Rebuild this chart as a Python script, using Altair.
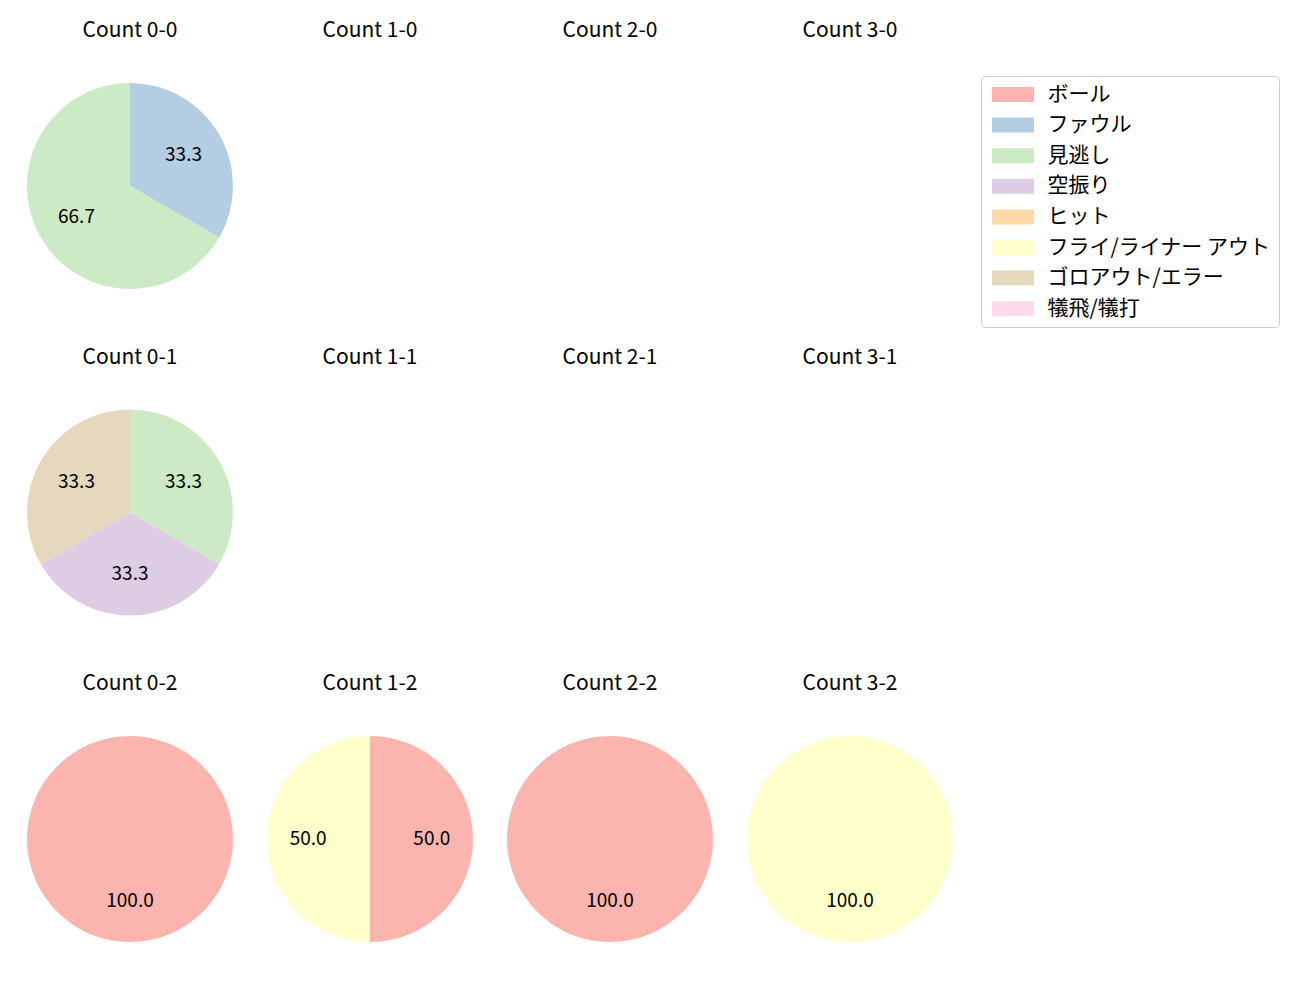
import altair as alt
import pandas as pd

categories = ["ボール", "ファウル", "見逃し", "空振り", "ヒット",
              "フライ/ライナー アウト", "ゴロアウト/エラー", "犠飛/犠打"]
colors = ["#fbb4ae", "#b3cde3", "#ccebc5", "#decbe4", "#fed9a6",
          "#ffffcc", "#e5d8bd", "#fddaec"]

panel_rows = [["Count 0-0", "Count 1-0", "Count 2-0", "Count 3-0"],
              ["Count 0-1", "Count 1-1", "Count 2-1", "Count 3-1"],
              ["Count 0-2", "Count 1-2", "Count 2-2", "Count 3-2"]]

# counts per panel: (panel, category, count)
panel_names = ["Count 0-0", "Count 0-0",
               "Count 0-1", "Count 0-1", "Count 0-1",
               "Count 0-2",
               "Count 1-2", "Count 1-2",
               "Count 2-2",
               "Count 3-2"]
panel_cats = ["ファウル", "見逃し",
              "見逃し", "空振り", "ゴロアウト/エラー",
              "ボール",
              "ボール", "フライ/ライナー アウト",
              "ボール",
              "フライ/ライナー アウト"]
panel_counts = [1, 2,
                1, 1, 1,
                1,
                1, 1,
                1,
                1]

df = pd.DataFrame({
    "panel": panel_names,
    "cat": panel_cats,
    "count": panel_counts,
})
df["idx"] = df["cat"].map({c: i for i, c in enumerate(categories)})

FONT = "Noto Sans CJK JP"
R = 103
color_scale = alt.Scale(domain=categories, range=colors)


def panel(name):
    base = alt.Chart(df).transform_filter(
        alt.datum.panel == name
    ).transform_joinaggregate(
        total="sum(count)"
    ).transform_calculate(
        pct="datum['count'] / datum.total * 100"
    ).encode(
        theta=alt.Theta("count:Q", stack=True),
        order=alt.Order("idx:Q", sort="ascending"),
    )
    arc = base.mark_arc(radius=R).encode(
        color=alt.Color("cat:N", scale=color_scale, title=None,
                        legend=alt.Legend(
                            orient="none", legendX=954, legendY=-7,
                            symbolType="M-2.8,-1H2.8V1H-2.8Z",
                            symbolSize=225, symbolOffset=13.5,
                            symbolStrokeWidth=0, symbolOpacity=1,
                            labelFont=FONT, labelFontSize=21,
                            labelColor="#000", labelOffset=24,
                            rowPadding=8.6, padding=8,
                            strokeColor="#cccccc", cornerRadius=4,
                            fillColor="white", labelLimit=400,
                        )),
    )
    text = base.mark_text(radius=R * 0.6, font=FONT, fontSize=19,
                          color="black").encode(
        text=alt.Text("pct:Q", format=".1f"),
    )
    return alt.layer(arc, text).properties(
        width=2 * R, height=2 * R,
        title=alt.TitleParams(name, font=FONT, fontSize=21,
                              fontWeight="normal", color="black",
                              offset=42, anchor="middle"),
    )


rows = [alt.hconcat(*[panel(n) for n in r], spacing=34) for r in panel_rows]
chart = alt.vconcat(*rows, spacing=57.5).resolve_scale(
    theta="independent", color="shared"
).properties(
    padding={"left": 19, "top": 12, "right": 5, "bottom": 5}
).configure_view(stroke=None)

chart.save("out.html", embed_options={"renderer": "svg", "actions": False})
